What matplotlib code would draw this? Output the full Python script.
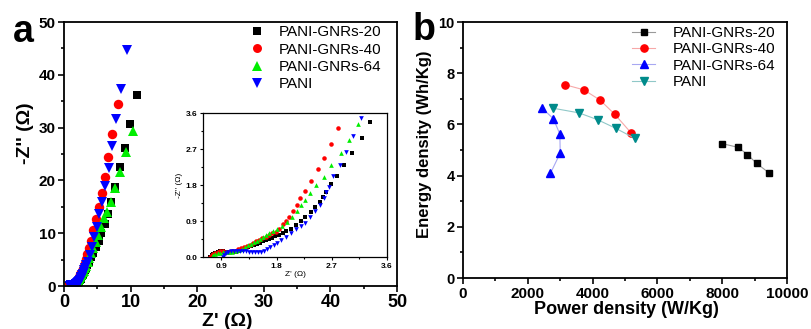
import matplotlib
matplotlib.use("Agg")
import matplotlib.pyplot as plt
from matplotlib.ticker import MultipleLocator

plt.rcParams['font.family'] = ['Liberation Sans', 'DejaVu Sans']

# ---------------- Panel a data (Nyquist) ----------------
labels = ["PANI-GNRs-20", "PANI-GNRs-40", "PANI-GNRs-64", "PANI"]

g20_zr = [0.72, 0.74, 0.77, 0.80, 0.84, 0.88, 0.93, 0.98, 1.03, 1.08,
          1.13, 1.18, 1.23, 1.28, 1.33, 1.38, 1.43, 1.48, 1.53, 1.58,
          1.63, 1.68, 1.73, 1.78, 1.84, 1.90, 1.96, 2.03, 2.11, 2.19,
          2.27, 2.36, 2.43, 2.50, 2.56, 2.61, 2.68, 2.79, 2.90, 3.03,
          3.19, 3.32,
          3.5, 3.8, 4.1, 4.4, 4.8, 5.2, 5.6, 6.1, 6.6, 7.1,
          7.7, 8.4, 9.2, 9.95, 10.9]
g20_zi = [0.00, 0.04, 0.08, 0.11, 0.13, 0.14, 0.14, 0.13, 0.12, 0.12,
          0.13, 0.15, 0.18, 0.21, 0.24, 0.27, 0.30, 0.33, 0.36, 0.39,
          0.42, 0.45, 0.48, 0.52, 0.56, 0.61, 0.66, 0.71, 0.80, 0.90,
          1.01, 1.13, 1.25, 1.37, 1.51, 1.63, 1.82, 2.03, 2.30, 2.61,
          2.97, 3.37,
          3.9, 4.6, 5.4, 6.3, 7.4, 8.6, 10.0, 11.8, 13.7, 15.9,
          18.7, 22.5, 26.1, 30.7, 36.2]

g40_zr = [0.72, 0.74, 0.77, 0.80, 0.84, 0.88, 0.92, 0.97, 1.02, 1.07,
          1.12, 1.17, 1.22, 1.27, 1.32, 1.37, 1.42, 1.47, 1.52, 1.57,
          1.62, 1.67, 1.72, 1.79, 1.84, 1.90, 1.95, 2.00, 2.06, 2.13,
          2.18, 2.27, 2.36, 2.47, 2.57, 2.68, 2.80,
          2.95, 3.1, 3.3, 3.5, 3.75, 4.0, 4.42, 4.82, 5.27, 5.67,
          6.17, 6.68, 7.28, 8.08]
g40_zi = [0.00, 0.04, 0.08, 0.11, 0.13, 0.14, 0.14, 0.13, 0.13, 0.14,
          0.16, 0.19, 0.22, 0.25, 0.28, 0.31, 0.35, 0.39, 0.43, 0.47,
          0.51, 0.55, 0.59, 0.63, 0.70, 0.82, 0.91, 1.01, 1.15, 1.30,
          1.47, 1.65, 1.90, 2.19, 2.47, 2.82, 3.22,
          3.7, 4.3, 5.1, 6.0, 7.2, 8.6, 10.6, 12.7, 15.0, 17.6,
          20.7, 24.5, 28.8, 34.5]

g64_zr = [0.74, 0.77, 0.80, 0.84, 0.88, 0.93, 0.98, 1.03, 1.08, 1.13,
          1.18, 1.23, 1.28, 1.33, 1.38, 1.43, 1.48, 1.53, 1.58, 1.63,
          1.68, 1.74, 1.81, 1.89, 1.97, 2.05, 2.14, 2.20, 2.26, 2.34,
          2.45, 2.57, 2.69, 2.85, 2.98, 3.13,
          3.3, 3.55, 3.8, 4.1, 4.4, 4.75, 5.15, 5.55, 6.0, 6.5,
          7.05, 7.65, 8.35, 9.25, 10.3]
g64_zi = [0.00, 0.04, 0.07, 0.09, 0.11, 0.12, 0.12, 0.12, 0.13, 0.15,
          0.18, 0.21, 0.25, 0.29, 0.33, 0.37, 0.41, 0.45, 0.49, 0.54,
          0.59, 0.64, 0.70, 0.78, 0.88, 1.01, 1.15, 1.30, 1.43, 1.61,
          1.80, 2.01, 2.30, 2.59, 2.93, 3.32,
          3.8, 4.5, 5.3, 6.2, 7.2, 8.4, 9.7, 11.2, 12.8, 14.0,
          16.0, 18.5, 21.5, 25.4, 29.4]

pani_zr = [0.93, 0.95, 0.97, 1.00, 1.05, 1.10, 1.15, 1.20, 1.25, 1.30,
           1.35, 1.40, 1.45, 1.50, 1.55, 1.60, 1.65, 1.70, 1.75, 1.80,
           1.87, 1.95, 2.03, 2.12, 2.20, 2.27, 2.35, 2.42, 2.50, 2.57,
           2.61, 2.66, 2.72, 2.83, 2.93, 3.05, 3.17,
           3.35, 3.6, 3.9, 4.17, 4.5, 4.92, 5.32, 5.72, 6.17, 6.73,
           7.18, 7.83, 8.54, 9.44]
pani_zi = [0.00, 0.05, 0.09, 0.12, 0.14, 0.15, 0.15, 0.15, 0.15, 0.14,
           0.13, 0.12, 0.12, 0.12, 0.13, 0.16, 0.20, 0.25, 0.30, 0.36,
           0.42, 0.50, 0.59, 0.70, 0.78, 0.86, 1.00, 1.15, 1.30, 1.47,
           1.62, 1.76, 2.03, 2.30, 2.63, 3.03, 3.48,
           3.9, 4.5, 5.8, 7.4, 9.3, 11.2, 13.6, 16.0, 18.9, 22.4,
           26.5, 31.6, 37.4, 44.7]

# ---------------- Panel b data (Ragone) ----------------
g20_p = [8000, 8500, 8780, 9060, 9450]
g20_e = [5.25, 5.10, 4.82, 4.48, 4.10]
g40_p = [3150, 3730, 4230, 4680, 5180]
g40_e = [7.55, 7.35, 6.95, 6.40, 5.68]
g64_p = [2430, 2790, 2990, 3000, 2700]
g64_e = [6.65, 6.22, 5.62, 4.88, 4.09]
pani_p = [2790, 3580, 4160, 4710, 5310]
pani_e = [6.63, 6.45, 6.18, 5.85, 5.45]

W, H = 811, 329
fig = plt.figure(figsize=(W / 100, H / 100), dpi=100)

def box(l, t, r, b):
    return [l / W, 1 - b / H, (r - l) / W, (b - t) / H]

ax_a = fig.add_axes(box(64, 22, 397, 286))
ax_in = fig.add_axes(box(203, 113, 387, 257))
ax_b = fig.add_axes(box(463, 22, 787, 278))

nyq = [(g20_zr, g20_zi, 'black', 's', 6.0),
       (g40_zr, g40_zi, 'red', 'o', 6.8),
       (g64_zr, g64_zi, '#00ee00', '^', 7.0),
       (pani_zr, pani_zi, 'blue', 'v', 7.0)]

for (zr, zi, c, m, ms), lab in zip(nyq, labels):
    ax_a.plot(zr, zi, linestyle='none', marker=m, color=c, markersize=ms,
              markeredgewidth=0, label=lab)
    ax_in.plot(zr, zi, linestyle='none', marker=m, color=c,
               markersize=ms * 0.48, markeredgewidth=0)

rag = [(g20_p, g20_e, 'black', 's', '#9a9a9a', 4.6),
       (g40_p, g40_e, 'red', 'o', '#f7a8a8', 5.2),
       (g64_p, g64_e, 'blue', '^', '#a8a8f2', 5.4),
       (pani_p, pani_e, '#008b8b', 'v', '#90c8c8', 5.4)]
for (p, e, c, m, lc, ms), lab in zip(rag, labels):
    ax_b.plot(p, e, linestyle='-', color=lc, linewidth=0.8, marker=m,
              markerfacecolor=c, markeredgecolor=c, markersize=ms, label=lab)

def style(ax, lw=1.3, tl=4, mtl=2.5):
    for s in ax.spines.values():
        s.set_linewidth(lw)
    ax.tick_params(which='both', direction='out', top=False, right=False,
                   width=lw * 0.9)
    ax.tick_params(which='major', length=tl)
    ax.tick_params(which='minor', length=mtl)

# panel a
ax_a.set_xlim(0, 50)
ax_a.set_ylim(0, 50)
ax_a.xaxis.set_major_locator(MultipleLocator(10))
ax_a.xaxis.set_minor_locator(MultipleLocator(5))
ax_a.yaxis.set_major_locator(MultipleLocator(10))
ax_a.yaxis.set_minor_locator(MultipleLocator(5))
style(ax_a)
ax_a.tick_params(axis='x', labelsize=13, pad=2)
ax_a.tick_params(axis='y', labelsize=11, pad=2)
for t in ax_a.get_xticklabels() + ax_a.get_yticklabels():
    t.set_fontweight('bold')

ax_a.legend(loc='upper left', bbox_to_anchor=(0.557, 0.988), frameon=False,
            fontsize=11, handlelength=1.0, handletextpad=0.94,
            labelspacing=0.22, borderpad=0, borderaxespad=0, markerscale=0.95)

# inset
ax_in.set_xlim(0.6, 3.6)
ax_in.set_ylim(0, 3.6)
ax_in.set_xticks([0.9, 1.8, 2.7, 3.6])
ax_in.set_yticks([0.0, 0.9, 1.8, 2.7, 3.6])
ax_in.xaxis.set_minor_locator(MultipleLocator(0.45))
ax_in.yaxis.set_minor_locator(MultipleLocator(0.45))
ax_in.set_xticklabels(['0.9', '1.8', '2.7', '3.6'])
ax_in.set_yticklabels(['0.0', '0.9', '1.8', '2.7', '3.6'])
style(ax_in, lw=0.9, tl=2.5, mtl=1.5)
ax_in.tick_params(labelsize=6, pad=1.5)
for t in ax_in.get_xticklabels() + ax_in.get_yticklabels():
    t.set_fontweight('bold')
ax_in.set_xlabel("Z' (Ω)", fontsize=6, labelpad=1)
ax_in.set_ylabel("-Z'' (Ω)", fontsize=6, labelpad=2)

# panel b
ax_b.set_xlim(0, 10000)
ax_b.set_ylim(0, 10)
ax_b.xaxis.set_major_locator(MultipleLocator(2000))
ax_b.xaxis.set_minor_locator(MultipleLocator(1000))
ax_b.yaxis.set_major_locator(MultipleLocator(2))
ax_b.yaxis.set_minor_locator(MultipleLocator(1))
style(ax_b)
ax_b.tick_params(axis='x', labelsize=11, pad=2.5)
ax_b.tick_params(axis='y', labelsize=10.5, pad=2)
for t in ax_b.get_xticklabels() + ax_b.get_yticklabels():
    t.set_fontweight('bold')

ax_b.legend(loc='upper left', bbox_to_anchor=(0.522, 0.984), frameon=False,
            fontsize=11, handlelength=1.5, handletextpad=1.18,
            labelspacing=0.15, borderpad=0, borderaxespad=0)

# axis labels and panel letters
fig.text(26 / W, 1 - 133 / H, "-Z'' (Ω)", rotation=90, ha='center',
         va='center', fontsize=14, fontweight='bold')
fig.text(227 / W, 1 - 313 / H, "Z' (Ω)", ha='center', va='top',
         fontsize=14, fontweight='bold')
fig.text(425 / W, 1 - 144 / H, "Energy density (Wh/Kg)", rotation=90,
         ha='center', va='center', fontsize=12, fontweight='bold')
fig.text(626 / W, 1 - 310 / H, "Power density (W/Kg)", ha='center',
         va='center', fontsize=13, fontweight='bold')
fig.text(23 / W, 1 - 42 / H, "a", ha='center', va='baseline', fontsize=27,
         fontweight='bold')
fig.text(424 / W, 1 - 40 / H, "b", ha='center', va='baseline', fontsize=27,
         fontweight='bold')

fig.savefig("out.png", dpi=100)
